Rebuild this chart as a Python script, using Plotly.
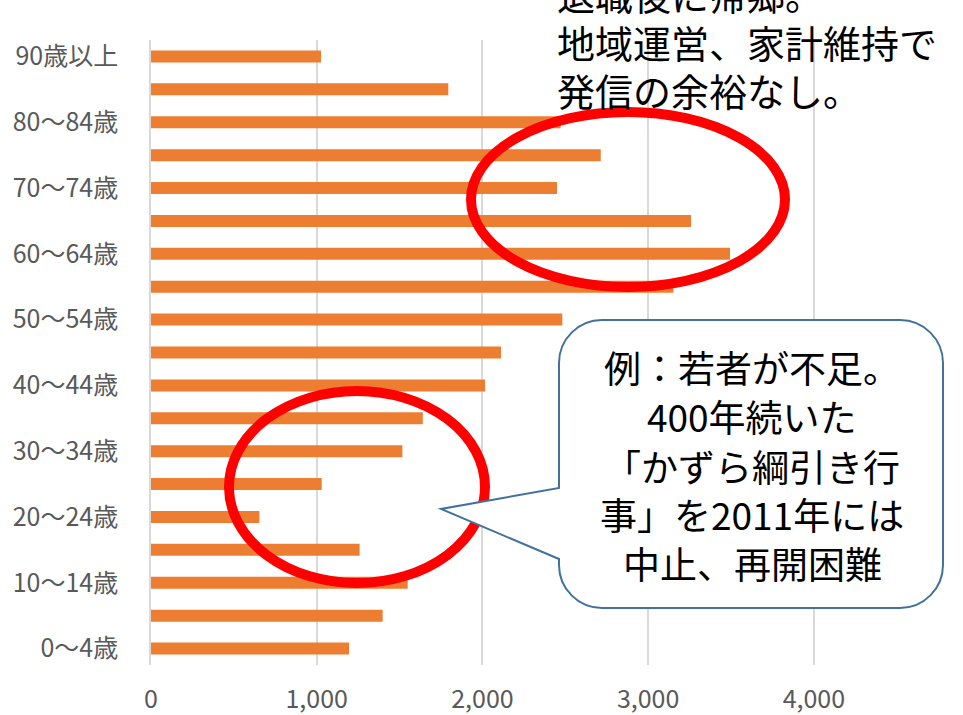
import plotly.graph_objects as go

# ---- data ----
age_groups = ["0～4歳", "5～9歳", "10～14歳", "15～19歳", "20～24歳", "25～29歳",
              "30～34歳", "35～39歳", "40～44歳", "45～49歳", "50～54歳", "55～59歳",
              "60～64歳", "65～69歳", "70～74歳", "75～79歳", "80～84歳", "85～89歳",
              "90歳以上"]
population = [1195, 1398, 1549, 1259, 654, 1030, 1517, 1640, 2016, 2112, 2482, 3152,
              3494, 3259, 2450, 2714, 2472, 1794, 1026]
labeled_ticks = age_groups[::2]
x_tickvals = [0, 1000, 2000, 3000, 4000]
x_ticktext = ["0", "1,000", "2,000", "3,000", "4,000"]

top_note_lines = ["退職後に帰郷。", "地域運営、家計維持で", "発信の余裕なし。"]
callout_lines = ["例：若者が不足。", "400年続いた", "「かずら綱引き行",
                 "事」を2011年には", "中止、再開困難"]

# ---- layout geometry (pixels) ----
W, H = 963, 715
L, R, T, B = 151, 0, 40, 50
PW, PH = W - L - R, H - T - B


def px(x):
    return (x - L) / PW


def py(y):
    return (H - B - y) / PH


fig = go.Figure()
fig.add_trace(go.Bar(
    x=population, y=age_groups, orientation="h",
    marker=dict(color="#ED7D31", line=dict(width=0)),
    hoverinfo="x+y",
))

CJK = "Noto Sans CJK JP"

# ellipses
shapes = [
    dict(type="circle", xref="paper", yref="paper",
         x0=px(471), x1=px(785), y0=py(287), y1=py(112),
         line=dict(color="#FF0000", width=10), fillcolor="rgba(0,0,0,0)"),
    dict(type="circle", xref="paper", yref="paper",
         x0=px(229), x1=px(485), y0=py(583), y1=py(391),
         line=dict(color="#FF0000", width=10), fillcolor="rgba(0,0,0,0)"),
]

# callout rounded rectangle with pointer
bx0, bx1, by0, by1, r = 559, 943, 320, 608, 43
k = 0.5523 * r


def P(x, y):
    return f"{px(x):.5f},{py(y):.5f}"


path = (
    f"M {P(bx0 + r, by0)} L {P(bx1 - r, by0)} "
    f"C {P(bx1 - r + k, by0)} {P(bx1, by0 + r - k)} {P(bx1, by0 + r)} "
    f"L {P(bx1, by1 - r)} "
    f"C {P(bx1, by1 - r + k)} {P(bx1 - r + k, by1)} {P(bx1 - r, by1)} "
    f"L {P(bx0 + r, by1)} "
    f"C {P(bx0 + r - k, by1)} {P(bx0, by1 - r + k)} {P(bx0, by1 - r)} "
    f"L {P(bx0, 559)} L {P(441, 509)} L {P(bx0, 488)} "
    f"L {P(bx0, by0 + r)} "
    f"C {P(bx0, by0 + r - k)} {P(bx0 + r - k, by0)} {P(bx0 + r, by0)} Z"
)
shapes.append(dict(type="path", xref="paper", yref="paper", path=path,
                   line=dict(color="#41719C", width=2), fillcolor="white"))

annotations = []
top_centers = [-6, 42, 90]
for line, yc in zip(top_note_lines, top_centers):
    annotations.append(dict(
        text=line, xref="paper", yref="paper", x=px(555), y=py(yc),
        xanchor="left", yanchor="middle", align="left", showarrow=False,
        font=dict(family=CJK, size=38, color="black")))

callout_centers = [367, 416, 466, 514, 563]
for line, yc in zip(callout_lines, callout_centers):
    annotations.append(dict(
        text=line, xref="paper", yref="paper", x=px(752), y=py(yc),
        xanchor="center", yanchor="middle", align="center", showarrow=False,
        font=dict(family=CJK, size=37, color="black")))

fig.update_layout(
    width=W, height=H,
    margin=dict(l=L, r=R, t=T, b=B, pad=0),
    plot_bgcolor="white", paper_bgcolor="white",
    bargap=0.635,
    showlegend=False,
    shapes=shapes,
    annotations=annotations,
    xaxis=dict(range=[0, 4900], tickvals=x_tickvals, ticktext=x_ticktext,
               showgrid=True, gridcolor="#D9D9D9", gridwidth=1.5,
               zeroline=False, showline=False, ticks="",
               ticklabelstandoff=17,
               tickfont=dict(family=CJK, size=25, color="#595959")),
    yaxis=dict(type="category", categoryorder="array", categoryarray=age_groups,
               tickvals=labeled_ticks, ticktext=labeled_ticks,
               showgrid=False, showline=True, linecolor="#D9D9D9", linewidth=1.5,
               ticks="", ticklabelstandoff=26,
               tickfont=dict(family=CJK, size=25, color="#595959")),
    font=dict(family=CJK),
)

fig.write_html("out.html")
